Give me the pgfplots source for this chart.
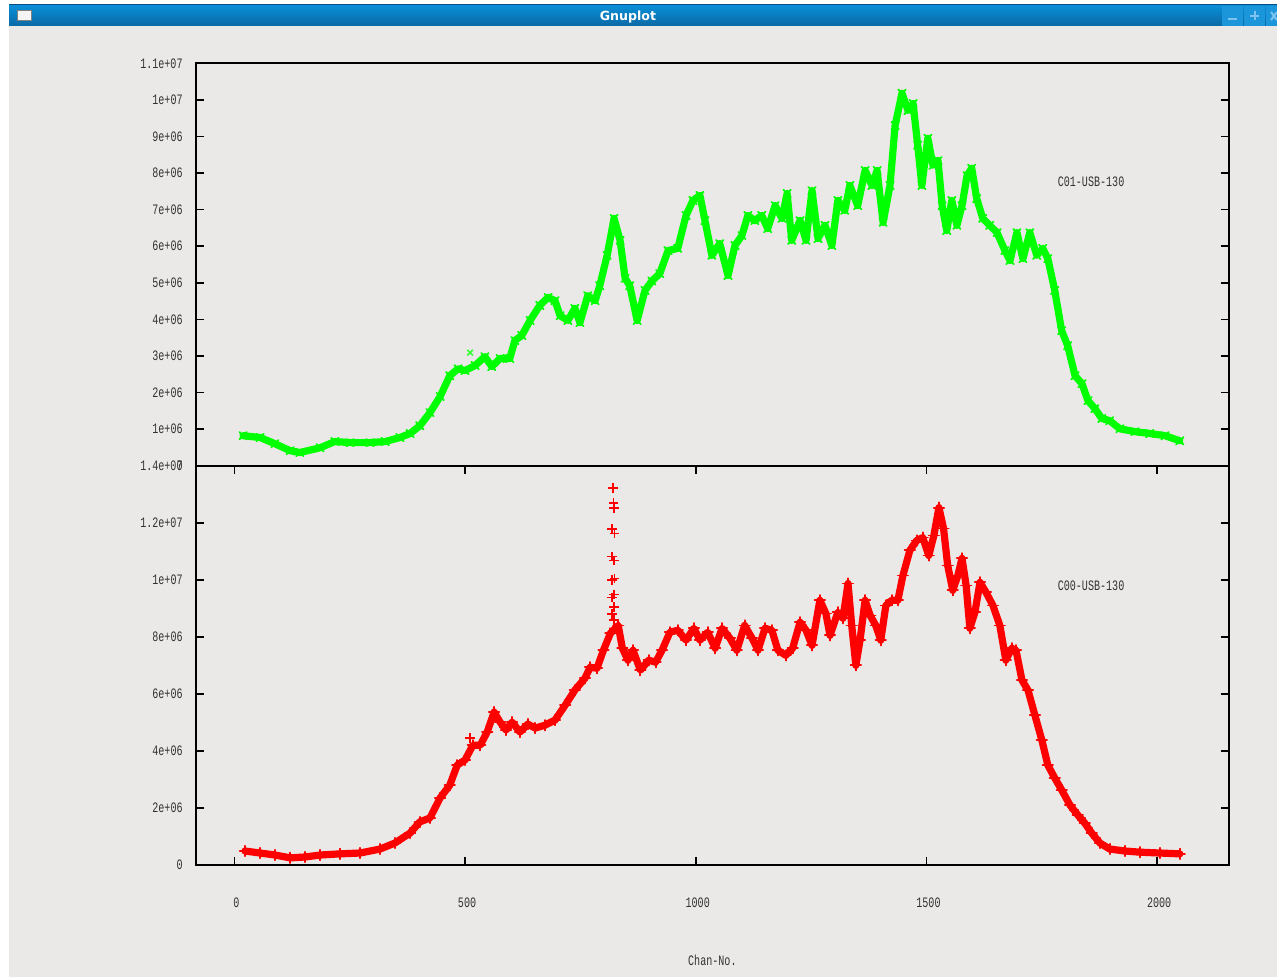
\documentclass[border=0pt]{standalone}
\usepackage{pgfplots}
\pgfplotsset{compat=1.18}
\usepackage{fontspec}
\newfontfamily\gpfont[FakeStretch=0.7]{Liberation Mono}
\newfontfamily\wmfont{DejaVu Sans}
\definecolor{bg}{RGB}{235,233,231}
\definecolor{gptext}{RGB}{50,50,50}
\definecolor{gpgreen}{RGB}{0,255,0}
\definecolor{gpred}{RGB}{255,0,0}
\definecolor{bartop}{RGB}{10,143,216}
\definecolor{barbot}{RGB}{11,105,165}
\definecolor{btn}{RGB}{28,150,218}
\definecolor{btnsym}{RGB}{125,195,238}

\newcommand{\gpf}{\gpfont\fontsize{7.2}{8}\selectfont}

% channel spectra, y values in units of 1e6
\pgfplotstableread{
ch v
19 0.82
56 0.77
88 0.60
121 0.41
142 0.36
186 0.49
218 0.66
251 0.63
294 0.63
327 0.66
359 0.77
381 0.88
402 1.09
424 1.45
446 1.89
467 2.46
485 2.65
500 2.60
522 2.74
543 2.98
558 2.71
576 2.93
597 2.93
608 3.42
623 3.56
641 3.97
662 4.38
680 4.60
695 4.51
706 4.10
723 3.97
738 4.30
749 3.91
766 4.65
782 4.51
792 4.92
808 5.75
823 6.76
836 6.16
847 5.12
857 4.92
873 3.97
890 4.79
905 5.05
922 5.25
940 5.88
961 5.94
979 6.84
994 7.25
1009 7.39
1020 6.70
1035 5.75
1052 6.07
1070 5.20
1085 6.02
1100 6.29
1113 6.84
1128 6.70
1143 6.84
1156 6.48
1172 7.11
1187 6.76
1198 7.44
1208 6.16
1226 6.70
1239 6.16
1252 7.52
1265 6.21
1280 6.57
1295 6.02
1308 7.25
1323 6.98
1334 7.66
1351 7.11
1367 8.07
1382 7.66
1393 8.07
1406 6.65
1421 7.66
1432 9.30
1447 10.18
1460 9.71
1471 9.90
1481 8.76
1490 7.66
1503 8.95
1514 8.21
1525 8.34
1534 7.11
1544 6.43
1555 7.25
1566 6.57
1577 7.11
1588 7.93
1598 8.13
1609 7.30
1622 6.76
1637 6.57
1653 6.37
1670 5.88
1681 5.61
1696 6.37
1709 5.66
1724 6.37
1739 5.75
1752 5.94
1763 5.66
1778 4.79
1793 3.69
1806 3.28
1822 2.46
1837 2.24
1850 1.78
1865 1.56
1880 1.29
1897 1.23
1919 1.01
1952 0.93
1984 0.88
2017 0.82
2049 0.68
}\cone

\pgfplotstableread{
ch v
23 0.49
56 0.42
88 0.35
121 0.25
153 0.28
186 0.35
229 0.39
273 0.42
316 0.56
348 0.77
381 1.12
402 1.51
424 1.65
446 2.35
467 2.80
483 3.50
500 3.68
517 4.20
533 4.20
548 4.66
563 5.36
576 5.01
589 4.73
602 5.01
619 4.66
636 4.94
652 4.80
673 4.90
695 5.08
717 5.60
738 6.13
760 6.55
771 6.93
786 6.90
800 7.53
815 8.12
832 8.40
841 7.60
853 7.18
864 7.53
880 6.83
898 7.18
913 7.11
927 7.53
944 8.16
961 8.23
979 7.88
996 8.30
1009 7.88
1026 8.16
1042 7.60
1057 8.30
1074 7.95
1089 7.53
1106 8.40
1122 7.95
1135 7.53
1150 8.30
1165 8.23
1178 7.53
1195 7.35
1210 7.60
1226 8.51
1239 8.23
1252 7.70
1269 9.28
1282 8.82
1291 8.05
1308 8.86
1319 8.65
1330 9.87
1338 8.40
1347 7.00
1356 7.88
1367 9.28
1378 8.75
1390 8.40
1401 7.88
1412 9.10
1425 9.28
1438 9.28
1449 10.15
1464 11.03
1479 11.38
1492 11.48
1505 10.85
1516 11.55
1527 12.53
1537 11.80
1546 10.50
1557 9.63
1568 10.15
1577 10.75
1586 9.80
1594 8.30
1605 8.86
1616 9.91
1629 9.56
1644 9.10
1659 8.40
1672 7.18
1685 7.60
1694 7.53
1707 6.48
1720 6.13
1735 5.25
1750 4.38
1763 3.50
1778 3.05
1793 2.63
1811 2.10
1828 1.75
1843 1.47
1858 1.12
1876 0.77
1897 0.56
1930 0.49
1962 0.45
2006 0.42
2049 0.39
}\czero

\pgfplotsset{
  gp/.style={
    scale only axis,
    width=516.35pt,
    xmin=-83, xmax=2155,
    axis line style={line width=1pt},
    every tick/.style={black, line width=0.8pt},
    major tick length=4pt,
    tick align=inside,
    scaled ticks=false,
    clip=false,
    yticklabel style={font=\gpf, text=gptext, anchor=east, inner sep=0pt, xshift=-6.5pt},
    xticklabel style={font=\gpf, text=gptext, anchor=center, inner sep=0pt, yshift=-19pt, xshift=1pt},
  },
}

\begin{document}
\begin{tikzpicture}
\begin{scope}[x=0.5pt,y=0.5pt]
  \fill[white] (0,0) rectangle (1277,977);
  \fill[bg] (9,0) rectangle (1277,951);
  \shade[top color=bartop, bottom color=barbot] (9,951) rectangle (1277,972);
  \draw[line width=0.5pt, color={rgb,255:red,8;green,80;blue,130}] (9,972) -- (1277,972);
  \filldraw[fill=white!92!gray, draw=gray, line width=0.5pt] (17,956) rectangle (31,966);
  \fill[btn] (1222,951) rectangle (1243,971);
  \fill[btn] (1244,951) rectangle (1265,971);
  \fill[btn] (1266,951) rectangle (1277,971);
  \draw[btnsym, line width=1pt] (1228,958) -- (1237,958);
  \draw[btnsym, line width=1pt] (1250,961) -- (1259,961) (1254.5,956.5) -- (1254.5,965.5);
  \draw[btnsym, line width=1pt] (1271,957) -- (1277,965) (1271,965) -- (1277,957);
  \node[text=white, font=\wmfont\bfseries\fontsize{6.3}{7}\selectfont] at (628,960) {Gnuplot};
\end{scope}

% upper panel
\begin{axis}[gp,
  at={(98pt,255.65pt)}, anchor=south west,
  height=201.2pt,
  ymin=0, ymax=11,
  xtick=\empty,
  ytick={0,1,2,3,4,5,6,7,8,9,10,11},
  yticklabels={0,1e+06,2e+06,3e+06,4e+06,5e+06,6e+06,7e+06,8e+06,9e+06,1e+07,1.1e+07},
]
\addplot[color=gpgreen, line width=3.6pt, line join=round, line cap=round, mark=x, mark size=2.6pt,
  mark options={line width=0.9pt}] table[x=ch, y=v] {\cone};
\addplot[only marks, color=gpgreen!80!white, mark=x, mark size=2pt,
  mark options={line width=0.8pt}] coordinates {(511,3.09)};
\node[font=\gpf, text=gptext] at (rel axis cs:0.8667,0.706) {C01-USB-130};
\end{axis}

% lower panel
\begin{axis}[gp,
  at={(98pt,56pt)}, anchor=south west,
  height=199.65pt,
  ymin=0, ymax=14,
  xtick={0,500,1000,1500,2000},
  xticklabels={0,500,1000,1500,2000},
  ytick={0,2,4,6,8,10,12,14},
  yticklabels={0,2e+06,4e+06,6e+06,8e+06,1e+07,1.2e+07,1.4e+07},
  xlabel={Chan-No.},
  xlabel style={font=\gpf, text=gptext, at={(axis description cs:0.5,0)}, anchor=center, yshift=-47.5pt},
]
\addplot[color=gpred, line width=3.6pt, line join=round, line cap=round, mark=+, mark size=2.6pt,
  mark options={line width=0.9pt}] table[x=ch, y=v] {\czero};
\addplot[only marks, color=gpred, mark=+, mark size=2.4pt,
  mark options={line width=0.8pt}] coordinates {
  (511,4.45)
  (821,13.22)(822,12.70)(823,12.52)(819,11.78)(824,11.62)(819,10.82)(823,10.68)
  (818,10.00)(824,10.05)(818,9.38)(823,9.49)(823,9.04)(818,8.81)(823,8.58)
};
\node[font=\gpf, text=gptext] at (rel axis cs:0.8667,0.70) {C00-USB-130};
\end{axis}

\pgfresetboundingbox
\path[use as bounding box] (0,0) rectangle (638.5pt,488.5pt);
\end{tikzpicture}
\end{document}
